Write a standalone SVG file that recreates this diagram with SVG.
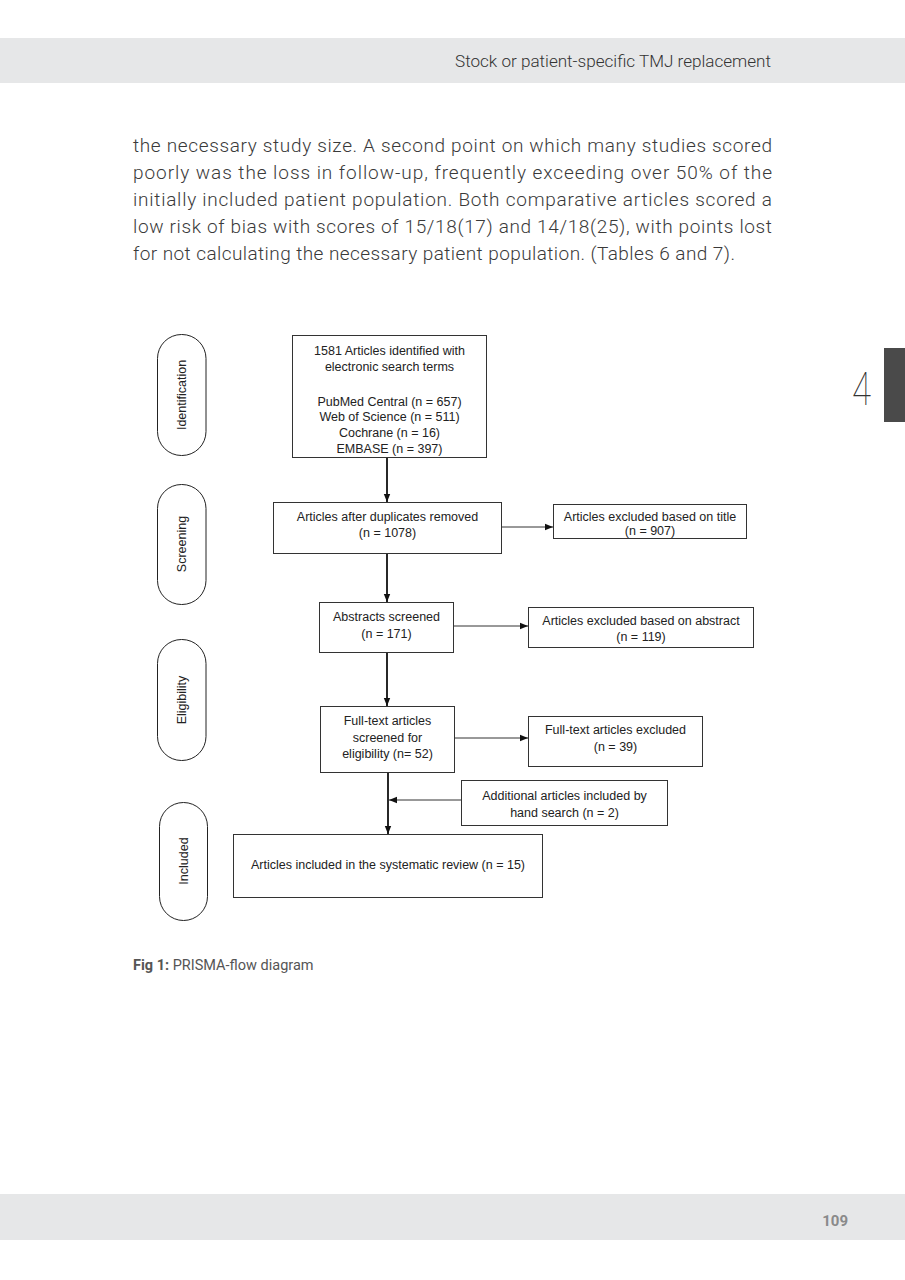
<svg xmlns="http://www.w3.org/2000/svg" width="905" height="1280" viewBox="0 0 905 1280">
<style>
.band{fill:#e6e7e8}
.body{font-family:Roboto,"Liberation Sans",sans-serif;font-weight:300;font-size:19px;fill:#3a3a3a}
.hdr{font-family:Roboto,"Liberation Sans",sans-serif;font-weight:300;font-size:16px;fill:#333}
.box{fill:#fff;stroke:#333;stroke-width:1}
.pill{fill:#fff;stroke:#222;stroke-width:1}
.lbl{font-family:"Liberation Sans",Arial,sans-serif;font-size:12.5px;fill:#222;text-anchor:middle}
.plbl{font-family:"Liberation Sans",Arial,sans-serif;font-size:12.5px;fill:#222;text-anchor:middle}
.v{stroke:#111;stroke-width:1.8;fill:none}
.h{stroke:#333;stroke-width:1;fill:none}
.cap{font-family:Roboto,"Liberation Sans",sans-serif;font-size:14.5px;fill:#555}
</style>
<defs>
<marker id="ah" markerUnits="userSpaceOnUse" markerWidth="8" markerHeight="8" viewBox="0 0 8 8" refX="8" refY="4" orient="auto">
<path d="M0,0.8 L8,4 L0,7.2 Z" fill="#111"/>
</marker>
</defs>
<rect width="905" height="1280" fill="#fff"/>
<rect class="band" x="0" y="38" width="905" height="45"/>
<text class="hdr" x="771" y="67" text-anchor="end" textLength="316" lengthAdjust="spacingAndGlyphs">Stock or patient-specific TMJ replacement</text>
<g id="body">
<text class="body" x="133" y="152" textLength="639" lengthAdjust="spacing">the necessary study size. A second point on which many studies scored</text>
<text class="body" x="133" y="179" textLength="639" lengthAdjust="spacing">poorly was the loss in follow-up, frequently exceeding over 50% of the</text>
<text class="body" x="133" y="206" textLength="639" lengthAdjust="spacing">initially included patient population. Both comparative articles scored a</text>
<text class="body" x="133" y="233" textLength="639" lengthAdjust="spacing">low risk of bias with scores of 15/18(17) and 14/18(25), with points lost</text>
<text class="body" x="133" y="260" textLength="602" lengthAdjust="spacing">for not calculating the necessary patient population. (Tables 6 and 7).</text>
</g>
<g id="chapter-tab">
<rect x="884" y="348" width="21" height="74" fill="#4a4a4a"/>
<text x="852" y="405" font-family="Roboto,'Liberation Sans',sans-serif" font-weight="100" font-size="47" fill="#333" textLength="19" lengthAdjust="spacingAndGlyphs">4</text>
</g>
<g id="stage-identification">
<rect class="pill" x="157.5" y="334.5" width="48.5" height="121" rx="24"/>
<text class="plbl" transform="translate(186,395) rotate(-90)">Identification</text>
</g>
<g id="stage-screening">
<rect class="pill" x="157.5" y="484.5" width="48.5" height="120" rx="24"/>
<text class="plbl" transform="translate(186,544) rotate(-90)">Screening</text>
</g>
<g id="stage-eligibility">
<rect class="pill" x="157.5" y="639.5" width="48.5" height="121" rx="24"/>
<text class="plbl" transform="translate(186,700) rotate(-90)">Eligibility</text>
</g>
<g id="stage-included">
<rect class="pill" x="159.5" y="802.5" width="48" height="118" rx="24"/>
<text class="plbl" transform="translate(188,861) rotate(-90)">Included</text>
</g>
<g id="n-identified">
<rect class="box" x="292.5" y="335.5" width="194" height="122"/>
<text class="lbl" x="389.5" y="354.5">1581 Articles identified with</text>
<text class="lbl" x="389.5" y="371">electronic search terms</text>
<text class="lbl" x="389.5" y="405.5">PubMed Central (n = 657)</text>
<text class="lbl" x="389.5" y="421">Web of Science (n = 511)</text>
<text class="lbl" x="389.5" y="437">Cochrane (n = 16)</text>
<text class="lbl" x="389.5" y="452.5">EMBASE (n = 397)</text>
</g>
<g id="n-duplicates">
<rect class="box" x="273.5" y="502.5" width="228" height="51"/>
<text class="lbl" x="387.5" y="520.5">Articles after duplicates removed</text>
<text class="lbl" x="387.5" y="536.5">(n = 1078)</text>
</g>
<g id="n-excl-title">
<rect class="box" x="553.5" y="504.5" width="193" height="34"/>
<text class="lbl" x="650" y="520.5">Articles excluded based on title</text>
<text class="lbl" x="650" y="534.5">(n = 907)</text>
</g>
<g id="n-abstracts">
<rect class="box" x="319.5" y="602.5" width="134" height="50"/>
<text class="lbl" x="386.5" y="620.5">Abstracts screened</text>
<text class="lbl" x="386.5" y="637.5">(n = 171)</text>
</g>
<g id="n-excl-abstract">
<rect class="box" x="528.5" y="607.5" width="225" height="40"/>
<text class="lbl" x="641" y="624.5">Articles excluded based on abstract</text>
<text class="lbl" x="641" y="641">(n = 119)</text>
</g>
<g id="n-fulltext">
<rect class="box" x="320.5" y="706.5" width="134" height="66"/>
<text class="lbl" x="387.5" y="724.5">Full-text articles</text>
<text class="lbl" x="387.5" y="741.5">screened for</text>
<text class="lbl" x="387.5" y="757.5">eligibility (n= 52)</text>
</g>
<g id="n-excl-fulltext">
<rect class="box" x="528.5" y="716.5" width="174" height="50"/>
<text class="lbl" x="615.5" y="733.5">Full-text articles excluded</text>
<text class="lbl" x="615.5" y="750.5">(n = 39)</text>
</g>
<g id="n-additional">
<rect class="box" x="461.5" y="780.5" width="206" height="45"/>
<text class="lbl" x="564.5" y="799.5">Additional articles included by</text>
<text class="lbl" x="564.5" y="816.5">hand search (n = 2)</text>
</g>
<g id="n-included">
<rect class="box" x="233.5" y="834.5" width="309" height="63"/>
<text class="lbl" x="388" y="868.5">Articles included in the systematic review (n = 15)</text>
</g>
<g id="connectors">
<line class="v" x1="387" y1="458" x2="387" y2="502" marker-end="url(#ah)"/>
<line class="v" x1="387" y1="554" x2="387" y2="602" marker-end="url(#ah)"/>
<line class="v" x1="387" y1="653" x2="387" y2="706" marker-end="url(#ah)"/>
<line class="v" x1="388" y1="773" x2="388" y2="834" marker-end="url(#ah)"/>
<line class="h" x1="502" y1="527" x2="553" y2="527" marker-end="url(#ah)"/>
<line class="h" x1="454" y1="626" x2="528" y2="626" marker-end="url(#ah)"/>
<line class="h" x1="455" y1="738" x2="528" y2="738" marker-end="url(#ah)"/>
<line class="h" x1="461" y1="800" x2="389" y2="800" stroke="#666" marker-end="url(#ah)"/>
</g>
<text class="cap" x="133" y="970"><tspan font-weight="bold">Fig 1:</tspan> PRISMA-flow diagram</text>
<rect class="band" x="0" y="1194" width="905" height="46"/>
<text x="848" y="1226" text-anchor="end" font-family="Roboto,'Liberation Sans',sans-serif" font-weight="bold" font-size="15" fill="#8a8a8a">109</text>
</svg>
